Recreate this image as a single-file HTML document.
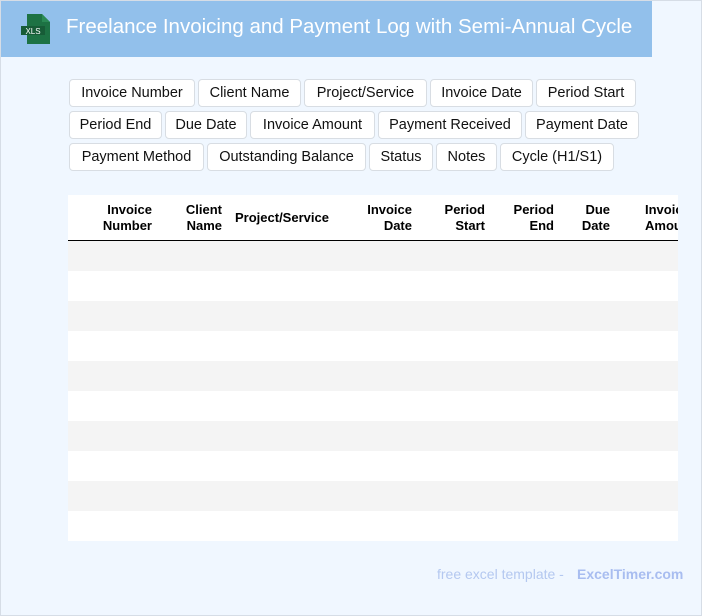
<!DOCTYPE html>
<html><head><style>
*{margin:0;padding:0;box-sizing:border-box}
body{width:702px;height:616px;background:#f0f7ff;font-family:"Liberation Sans",sans-serif;position:relative;overflow:hidden}
.frame{position:absolute;left:0;top:0;width:702px;height:616px;border:1px solid #d6dde6;pointer-events:none}
.hdr{position:absolute;left:0;top:0;width:652px;height:57px;background:#92c0eb}
.title{position:absolute;left:66px;top:15px;font-size:20.5px;color:#fff;white-space:nowrap}
.b{position:absolute;height:28px;border:1px solid #d8dde3;border-radius:4px;background:#fff;font-size:14.5px;color:#111;text-align:center;line-height:26px;white-space:nowrap}
.tbl{position:absolute;left:68px;top:195px;width:610px;height:346px;background:#fff;overflow:hidden}
.th{position:absolute;font-weight:bold;font-size:13px;line-height:16px;text-align:right;color:#000;white-space:nowrap}
.row{position:absolute;left:0;width:610px;height:30px}
.foot{position:absolute;top:566px;font-size:14px;white-space:nowrap}
</style></head><body>
<div class="hdr">
<svg style="position:absolute;left:20px;top:13px" width="32" height="32">
<path d="M7 1 H22 L30 9 V31 H7 Z" fill="#1d7244"/>
<path d="M22 1 L30 9 H22 Z" fill="#2a8a55"/>
<rect x="1" y="13" width="24" height="9" fill="#175c37"/>
<text x="13" y="21" font-size="8" fill="#fff" text-anchor="middle" font-family="Liberation Sans">XLS</text>
</svg>
<div class="title">Freelance Invoicing and Payment Log with Semi-Annual Cycle</div>
</div>
<div class="b" style="left:69px;top:79px;width:126px">Invoice Number</div>
<div class="b" style="left:198px;top:79px;width:103px">Client Name</div>
<div class="b" style="left:304px;top:79px;width:123px">Project/Service</div>
<div class="b" style="left:430px;top:79px;width:103px">Invoice Date</div>
<div class="b" style="left:536px;top:79px;width:100px">Period Start</div>
<div class="b" style="left:69px;top:111px;width:93px">Period End</div>
<div class="b" style="left:165px;top:111px;width:82px">Due Date</div>
<div class="b" style="left:250px;top:111px;width:125px">Invoice Amount</div>
<div class="b" style="left:378px;top:111px;width:144px">Payment Received</div>
<div class="b" style="left:525px;top:111px;width:114px">Payment Date</div>
<div class="b" style="left:69px;top:143px;width:135px">Payment Method</div>
<div class="b" style="left:207px;top:143px;width:159px">Outstanding Balance</div>
<div class="b" style="left:369px;top:143px;width:64px">Status</div>
<div class="b" style="left:436px;top:143px;width:61px">Notes</div>
<div class="b" style="left:500px;top:143px;width:114px">Cycle (H1/S1)</div>
<div class="tbl">
<div class="th" style="right:526px;top:7px">Invoice<br>Number</div>
<div class="th" style="right:456px;top:7px">Client<br>Name</div>
<div class="th" style="left:167px;top:15px">Project/Service</div>
<div class="th" style="right:266px;top:7px">Invoice<br>Date</div>
<div class="th" style="right:193px;top:7px">Period<br>Start</div>
<div class="th" style="right:124px;top:7px">Period<br>End</div>
<div class="th" style="right:68px;top:7px">Due<br>Date</div>
<div class="th" style="left:577px;top:7px;text-align:left">Invoice<br>Amount</div>
<div style="position:absolute;left:0;top:45px;width:610px;height:1px;background:#000"></div>
<div class="row" style="top:46px;background:#f4f4f4"></div>
<div class="row" style="top:106px;background:#f4f4f4"></div>
<div class="row" style="top:166px;background:#f4f4f4"></div>
<div class="row" style="top:226px;background:#f4f4f4"></div>
<div class="row" style="top:286px;background:#f4f4f4"></div>
</div>
<div class="foot" style="left:437px;color:#b4c8f0">free excel template -</div>
<div class="foot" style="left:577px;color:#a8bdf0;font-weight:bold">ExcelTimer.com</div>
<div class="frame"></div>
</body></html>
